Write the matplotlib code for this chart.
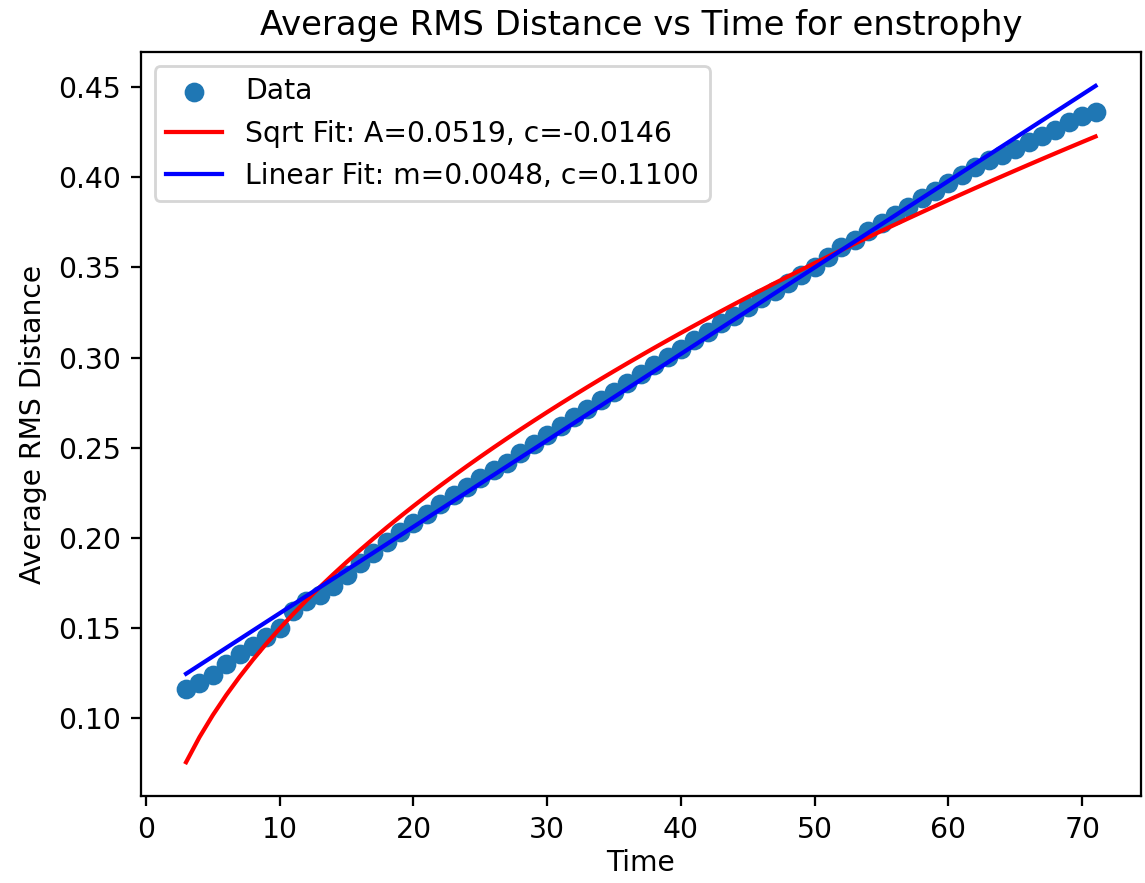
import numpy as np
import matplotlib
matplotlib.use("Agg")
import matplotlib.pyplot as plt

# time steps and average RMS distance
time = np.arange(3, 72)
rms = [0.1160, 0.1190, 0.1235, 0.1300, 0.1354, 0.1400, 0.1446, 0.1500,
       0.1592, 0.1647, 0.1684, 0.1730, 0.1794, 0.1858, 0.1916, 0.1974,
       0.2032, 0.2080, 0.2133, 0.2186, 0.2234, 0.2282, 0.2330, 0.2373,
       0.2416, 0.2469, 0.2522, 0.2570, 0.2618, 0.2671, 0.2714, 0.2762,
       0.2810, 0.2858, 0.2911, 0.2959, 0.3002, 0.3050, 0.3098, 0.3141,
       0.3189, 0.3232, 0.3280, 0.3328, 0.3371, 0.3414, 0.3457, 0.3500,
       0.3558, 0.3611, 0.3654, 0.3702, 0.3745, 0.3793, 0.3836, 0.3884,
       0.3927, 0.3970, 0.4013, 0.4057, 0.4094, 0.4125, 0.4158, 0.4195,
       0.4231, 0.4265, 0.4305, 0.4340, 0.4365]

# fit parameters shown in the legend
sqrt_A, sqrt_c = 0.0519, -0.0146
lin_m, lin_c = 0.0048, 0.1100

fig = plt.figure(figsize=(1145 / 203, 883 / 203), dpi=203)
ax = fig.add_axes([0.1228, 0.0985, 0.8737, 0.8425])

ax.scatter(time, rms, label='Data')
ax.plot(time, sqrt_A * np.sqrt(time) + sqrt_c, 'r-',
        label=f'Sqrt Fit: A={sqrt_A:.4f}, c={sqrt_c:.4f}')
ax.plot(time, lin_m * time + lin_c, 'b-',
        label=f'Linear Fit: m={lin_m:.4f}, c={lin_c:.4f}')

ax.set_xlabel('Time', labelpad=2)
ax.set_ylabel('Average RMS Distance')
ax.set_title('Average RMS Distance vs Time for enstrophy')
ax.legend(loc='upper left')

fig.savefig('out.png', dpi=203)
